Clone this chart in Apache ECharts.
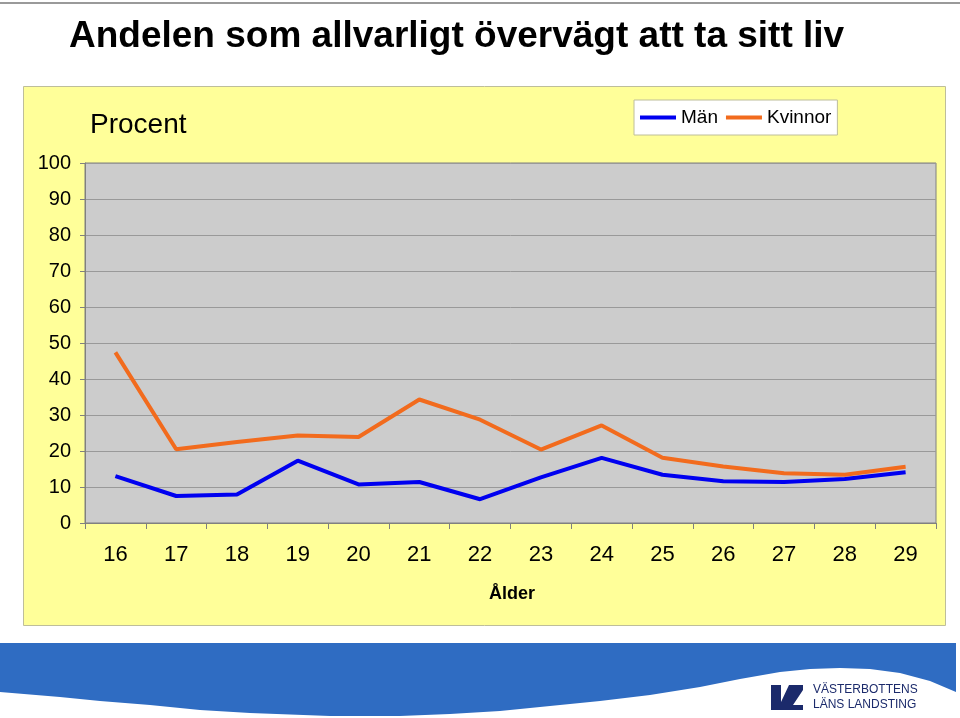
<!DOCTYPE html>
<html>
<head>
<meta charset="utf-8">
<script src="https://cdn.jsdelivr.net/npm/echarts@6/dist/echarts.min.js"></script>
<style>
html,body{margin:0;padding:0;background:#fff;}
#chart{width:960px;height:718px;}
</style>
</head>
<body>
<div id="chart"></div>
<script>
const titleText = 'Andelen som allvarligt övervägt att ta sitt liv';
const yAxisTitle = 'Procent';
const xAxisTitle = 'Ålder';
const ages = ['16','17','18','19','20','21','22','23','24','25','26','27','28','29'];
const man = [13.0, 7.5, 7.9, 17.3, 10.7, 11.4, 6.6, 12.7, 18.1, 13.4, 11.6, 11.4, 12.2, 14.1];
const kvinnor = [47.4, 20.5, 22.5, 24.3, 23.9, 34.3, 28.7, 20.4, 27.1, 18.1, 15.7, 13.8, 13.4, 15.6];
const seriesNames = ['Män', 'Kvinnor'];
const logoLines = ['VÄSTERBOTTENS', 'LÄNS LANDSTING'];

const FONT = '"Liberation Sans", Arial, sans-serif';
const chart = echarts.init(document.getElementById('chart'), null, {renderer: 'canvas'});

const bandPoints = [[0,643],[956,643],[956,692],[930,681],[900,673],[870,669],[840,668],[810,669],[780,672],[740,679],[700,687],[650,695],[600,701],[550,706],[500,711],[450,714],[400,716],[330,716],[250,713],[200,710],[150,705],[100,701],[60,697],[0,692]];
const logoPoints = [[771,685],[781,685],[781,702],[789,685],[803,685],[803,690],[793,705],[803,705],[803,710],[771,710]];

chart.setOption({
  backgroundColor: '#ffffff',
  animation: false,
  textStyle: {fontFamily: FONT},
  graphic: [
    {type: 'line', z: -10, shape: {x1: 0, y1: 3, x2: 960, y2: 3}, style: {stroke: '#9a9a9a', lineWidth: 2}},
    {type: 'rect', z: -10, shape: {x: 23.5, y: 86.5, width: 922, height: 539}, style: {fill: '#FFFF99', stroke: '#BEBE9A', lineWidth: 1}},
    {type: 'polygon', z: -5, shape: {points: bandPoints}, style: {fill: '#2F6CC2'}},
    {type: 'polygon', z: 2, shape: {points: logoPoints}, style: {fill: '#1B2A6B'}},
    {type: 'text', x: 69, y: 37, z: 5, style: {text: titleText, font: 'bold 37px ' + FONT, fill: '#000', textVerticalAlign: 'middle'}},
    {type: 'text', x: 90, y: 125, z: 5, style: {text: yAxisTitle, font: '28px ' + FONT, fill: '#000', textVerticalAlign: 'middle'}},
    {type: 'text', x: 512, y: 594, z: 5, style: {text: xAxisTitle, font: 'bold 18px ' + FONT, fill: '#000', textAlign: 'center', textVerticalAlign: 'middle'}},
    {type: 'text', x: 813, y: 690, z: 5, style: {text: logoLines[0], font: '12px ' + FONT, fill: '#1B2A6B', textVerticalAlign: 'middle'}},
    {type: 'text', x: 813, y: 705, z: 5, style: {text: logoLines[1], font: '12px ' + FONT, fill: '#1B2A6B', textVerticalAlign: 'middle'}}
  ],
  legend: {
    left: 634, top: 100,
    data: seriesNames,
    backgroundColor: '#ffffff',
    borderColor: '#BEBE9A', borderWidth: 1,
    padding: [8, 6, 8, 6],
    itemGap: 8,
    itemWidth: 36, itemHeight: 4,
    icon: 'rect',
    textStyle: {fontSize: 19, color: '#000', fontFamily: FONT}
  },
  grid: {
    left: 85, top: 163, right: 24, bottom: 195,
    show: true, backgroundColor: '#CCCCCC', borderColor: '#808080', borderWidth: 1,
    containLabel: false
  },
  xAxis: {
    type: 'category',
    data: ages,
    boundaryGap: true,
    axisLine: {show: true, lineStyle: {color: '#808080', width: 1}},
    axisTick: {show: true, inside: false, length: 6, lineStyle: {color: '#808080'}},
    axisLabel: {fontSize: 22, color: '#000', margin: 21, fontFamily: FONT},
    splitLine: {show: false}
  },
  yAxis: {
    type: 'value',
    min: 0, max: 100, interval: 10,
    axisLine: {show: true, lineStyle: {color: '#808080', width: 1}},
    axisTick: {show: true, length: 5, lineStyle: {color: '#808080'}},
    axisLabel: {fontSize: 20, color: '#000', margin: 14, fontFamily: FONT},
    splitLine: {show: true, lineStyle: {color: '#999999', width: 1}}
  },
  series: [
    {name: seriesNames[0], type: 'line', data: man, symbol: 'none', lineStyle: {color: '#0000F0', width: 4}, itemStyle: {color: '#0000F0'}},
    {name: seriesNames[1], type: 'line', data: kvinnor, symbol: 'none', lineStyle: {color: '#F26B1D', width: 4}, itemStyle: {color: '#F26B1D'}}
  ]
});
</script>
</body>
</html>
